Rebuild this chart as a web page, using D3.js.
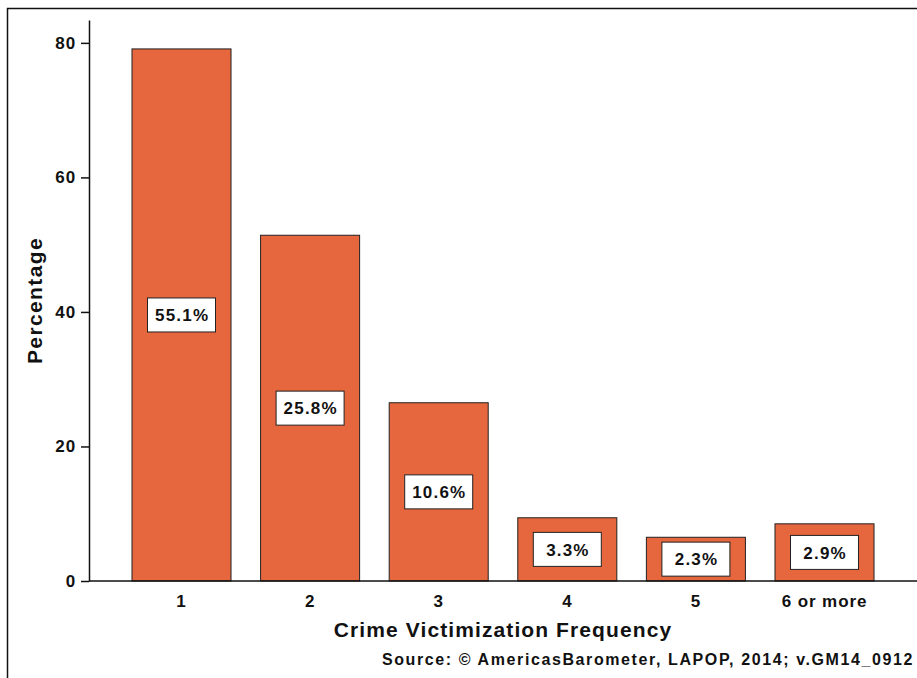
<!DOCTYPE html>
<html>
<head>
<meta charset="utf-8">
<script src="https://cdn.jsdelivr.net/npm/d3@7"></script>
<style>
  html, body { margin: 0; padding: 0; background: #fff; }
  svg { display: block; }
  text { font-family: "Liberation Sans", Arial, sans-serif; font-weight: bold; fill: #111; }
</style>
</head>
<body>
<svg id="chart" width="917" height="678"></svg>
<script>
// ---- data ----
const categories = ["1", "2", "3", "4", "5", "6 or more"];
const barValues = [79.1, 51.4, 26.5, 9.4, 6.5, 8.5];
const labelTexts = ["55.1%", "25.8%", "10.6%", "3.3%", "2.3%", "2.9%"];
const yTicks = [0, 20, 40, 60, 80];
const xTitle = "Crime Victimization Frequency";
const yTitle = "Percentage";
const sourceText = "Source: \u00A9 AmericasBarometer, LAPOP, 2014; v.GM14_0912";

const svg = d3.select("#chart");
const W = 917, H = 678;
const plotLeft = 89, plotRight = 917, plotTop = 20, plotBottom = 581;

// outer frame
svg.append("rect")
  .attr("x", 7.5).attr("y", 8.5)
  .attr("width", W + 20).attr("height", H + 20)
  .attr("fill", "none").attr("stroke", "#111").attr("stroke-width", 1.5);

const y = d3.scaleLinear().domain([0, 83.4]).range([plotBottom, plotTop]);
const x = d3.scaleBand().domain(categories)
  .range([117.2, 888.8]).paddingInner(0.23).paddingOuter(0.115);

// bars
const data = categories.map((c, i) => ({ c, v: barValues[i], label: labelTexts[i] }));
svg.append("g").selectAll("rect").data(data).join("rect")
  .attr("x", d => x(d.c))
  .attr("y", d => y(d.v))
  .attr("width", x.bandwidth())
  .attr("height", d => y(0) - y(d.v))
  .attr("fill", "#E6663E")
  .attr("stroke", "#222").attr("stroke-width", 1);

const tickFont = g => g.style("font-size", "17px")
  .style("font-family", "'Liberation Sans', Arial, sans-serif")
  .style("font-weight", "bold").style("letter-spacing", "0.9px").attr("fill", "#111");

// y axis
const yAxis = d3.axisLeft(y).tickValues(yTicks).tickSize(8).tickSizeOuter(0).tickPadding(5);
const gy = svg.append("g").attr("transform", `translate(${plotLeft},0)`).call(yAxis);
gy.select(".domain").attr("stroke", "#111").attr("stroke-width", 1.5);
gy.selectAll(".tick line").attr("stroke", "#111").attr("stroke-width", 1.5);
gy.selectAll(".tick text").call(tickFont);

// x axis line
svg.append("line")
  .attr("x1", plotLeft).attr("x2", plotRight)
  .attr("y1", y(0)).attr("y2", y(0))
  .attr("stroke", "#111").attr("stroke-width", 1.5);

const xAxis = d3.axisBottom(x).tickSize(0).tickPadding(14);
const gx = svg.append("g").attr("transform", `translate(0,${y(0)})`).call(xAxis);
gx.select(".domain").remove();
gx.selectAll(".tick text").call(tickFont);

// value labels
const boxW = 68, boxH = 34;
const lg = svg.append("g").selectAll("g").data(data).join("g")
  .attr("transform", d => `translate(${x(d.c) + x.bandwidth() / 2},${y(d.v / 2)})`);
lg.append("rect")
  .attr("x", -boxW / 2).attr("y", -boxH / 2)
  .attr("width", boxW).attr("height", boxH)
  .attr("fill", "#fff").attr("stroke", "#222").attr("stroke-width", 1);
lg.append("text")
  .attr("text-anchor", "middle").attr("dy", "0.36em").attr("dx", 0.6)
  .style("font-size", "17px").style("letter-spacing", "1.2px")
  .text(d => d.label);

// titles
svg.append("text")
  .attr("x", (plotLeft + plotRight) / 2).attr("y", 637)
  .attr("text-anchor", "middle")
  .style("font-size", "21px").style("letter-spacing", "1.1px")
  .text(xTitle);

svg.append("text")
  .attr("transform", `translate(42,${(plotTop + plotBottom) / 2}) rotate(-90)`)
  .attr("text-anchor", "middle")
  .style("font-size", "21px").style("letter-spacing", "1.4px")
  .text(yTitle);

svg.append("text")
  .attr("x", 914).attr("y", 665)
  .attr("text-anchor", "end")
  .style("font-size", "16px").style("letter-spacing", "1.6px")
  .text(sourceText);
</script>
</body>
</html>
